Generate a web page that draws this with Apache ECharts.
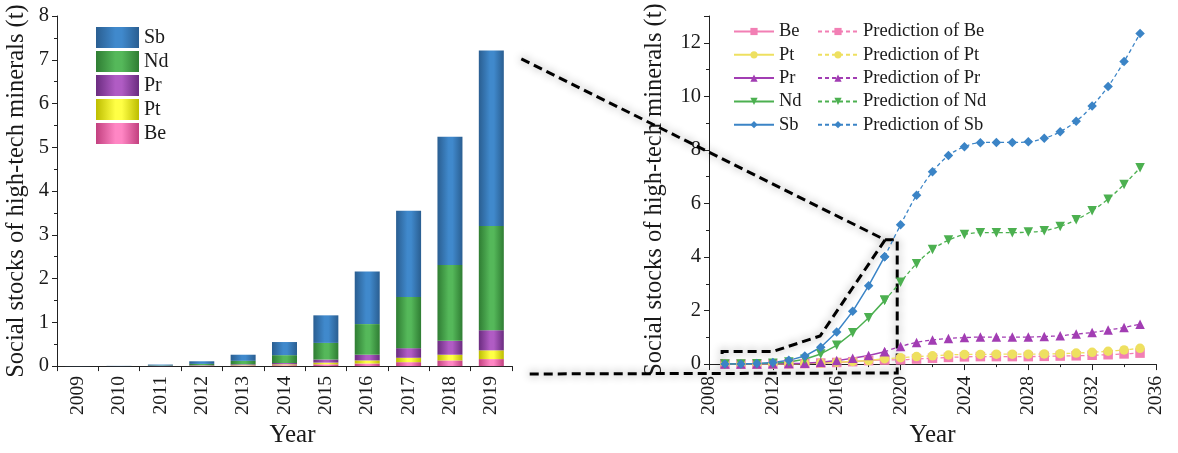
<!DOCTYPE html>
<html><head><meta charset="utf-8">
<script src="https://cdn.jsdelivr.net/npm/echarts@6/dist/echarts.min.js"></script>
<style>
html,body{margin:0;padding:0;background:#fff;}
#wrap{position:relative;width:1178px;height:453px;}
.c{position:absolute;left:0;top:0;width:1178px;height:453px;}
</style>
</head><body>
<div id="wrap"><div id="left" class="c"></div><div id="right" class="c"></div></div>
<script>
// ---------- data ----------
const histYears = ['2009','2010','2011','2012','2013','2014','2015','2016','2017','2018','2019'];
const histBe = [0, 0, 0, 0.005, 0.01, 0.02, 0.04, 0.06, 0.09, 0.13, 0.16];
const histPt = [0, 0, 0, 0.005, 0.01, 0.02, 0.04, 0.07, 0.10, 0.13, 0.20];
const histPr = [0, 0, 0.005, 0.01, 0.02, 0.03, 0.07, 0.13, 0.22, 0.32, 0.46];
const histNd = [0, 0, 0.01, 0.03, 0.08, 0.18, 0.38, 0.70, 1.17, 1.73, 2.38];
const histSb = [0.003, 0.005, 0.02, 0.06, 0.14, 0.30, 0.63, 1.20, 1.97, 2.93, 4.01];

const predYears = [2020,2021,2022,2023,2024,2025,2026,2027,2028,2029,2030,2031,2032,2033,2034,2035];
const predBe = [0.16,0.19,0.22,0.25,0.27,0.28,0.28,0.28,0.28,0.29,0.30,0.31,0.33,0.35,0.38,0.41];
const predPt = [0.24,0.28,0.31,0.34,0.36,0.36,0.37,0.37,0.37,0.38,0.39,0.41,0.44,0.48,0.53,0.59];
const predPr = [0.66,0.81,0.90,0.96,0.99,1.01,1.01,1.01,1.01,1.03,1.06,1.12,1.18,1.27,1.37,1.49];
const predNd = [3.06,3.75,4.28,4.63,4.84,4.91,4.91,4.91,4.93,4.98,5.14,5.39,5.73,6.16,6.71,7.33];
const predSb = [5.20,6.31,7.18,7.79,8.12,8.27,8.28,8.28,8.30,8.43,8.68,9.07,9.64,10.37,11.30,12.35];

const yTitle = 'Social stocks of high-tech minerals (t)';
const xTitle = 'Year';

// ---------- styles ----------
const FONT = "'Liberation Serif','Times New Roman',serif";
const TXT = '#1a1a1a';
function grad(dark, light){
  return {type:'linear',x:0,y:0,x2:1,y2:0,colorStops:[
    {offset:0,color:dark},{offset:0.45,color:light},{offset:0.6,color:light},{offset:1,color:dark}]};
}
const barStyles = {
  Be: grad('#c2407f','#ff86c4'),
  Pt: grad('#bdbd00','#ffff45'),
  Pr: grad('#6b2c80','#b05cc4'),
  Nd: grad('#2f7d33','#55b85a'),
  Sb: grad('#2a5e91','#4089cc')
};
const lineColors = {Be:'#f27fb4', Pt:'#eee060', Pr:'#a23db3', Nd:'#4cb050', Sb:'#3b84c6'};
const symbols = {Be:'rect', Pt:'circle', Pr:'triangle', Nd:'triangle', Sb:'diamond'};
const rotates = {Be:0, Pt:0, Pr:0, Nd:180, Sb:0};

const axisLine = {show:true, lineStyle:{color:'#222', width:1}};

// ---------- left chart ----------
const leftChart = echarts.init(document.getElementById('left'), null, {renderer:'canvas'});
const histMap = {Be:histBe, Pt:histPt, Pr:histPr, Nd:histNd, Sb:histSb};
const barOrder = ['Be','Pt','Pr','Nd','Sb'];
leftChart.setOption({
  animation:false,
  backgroundColor:'transparent',
  textStyle:{fontFamily:FONT, color:TXT},
  grid:{left:57, top:16, right:666, bottom:78, containLabel:false},
  legend:{
    orient:'vertical', left:96, top:27, padding:0,
    itemWidth:43, itemHeight:21, itemGap:3,
    data:['Sb','Nd','Pr','Pt','Be'],
    textStyle:{fontFamily:FONT, fontSize:20, color:TXT},
    icon:'rect'
  },
  xAxis:{
    type:'category', data:histYears,
    axisLine:axisLine,
    axisTick:{show:true, length:5, lineStyle:{color:'#222'}},
    axisLabel:{rotate:90, fontSize:19.5, fontFamily:FONT, color:TXT, margin:10},
    name:xTitle, nameLocation:'middle', nameGap:55,
    nameTextStyle:{fontSize:25, fontFamily:FONT, color:TXT, padding:[0,0,0,16]}
  },
  yAxis:{
    type:'value', min:0, max:8, interval:1,
    axisLine:axisLine,
    axisTick:{show:true, length:5, lineStyle:{color:'#222'}},
    minorTick:{show:true, splitNumber:2, length:3, lineStyle:{color:'#222'}},
    splitLine:{show:false},
    axisLabel:{fontSize:20.5, fontFamily:FONT, color:TXT, margin:8},
    name:yTitle, nameLocation:'middle', nameGap:28,
    nameTextStyle:{fontSize:24.5, fontFamily:FONT, color:TXT}
  },
  series: barOrder.map(k => ({
    name:k, type:'bar', stack:'total', data:histMap[k], barWidth:25,
    itemStyle:{color:barStyles[k]}
  }))
});

// ---------- right chart ----------
const rightChart = echarts.init(document.getElementById('right'), null, {renderer:'canvas'});
const predMap = {Be:predBe, Pt:predPt, Pr:predPr, Nd:predNd, Sb:predSb};
const lineOrder = ['Be','Pt','Pr','Nd','Sb'];
const histSeries = lineOrder.map(k => ({
  name:k, type:'line', z:3,
  data: histYears.map((y,i)=>[Number(y), histMap[k][i]]),
  symbol:symbols[k], symbolRotate:rotates[k], symbolSize:9.5,
  lineStyle:{color:lineColors[k], width:1.5},
  itemStyle:{color:lineColors[k]}
}));
const predSeries = lineOrder.map(k => ({
  name:'Prediction of ' + k, type:'line', z:2, smooth:0.35,
  data: [[Number(histYears[histYears.length-1]), histMap[k][histMap[k].length-1]]]
        .concat(predYears.map((y,i)=>[y, predMap[k][i]])),
  symbol:symbols[k], symbolRotate:rotates[k], symbolSize:9.5,
  lineStyle:{color:lineColors[k], width:1.3, type:[4,3]},
  itemStyle:{color:lineColors[k]}
}));
const legendCommon = {
  orient:'vertical', top:22, padding:0,
  itemWidth:40, itemHeight:9, itemGap:4.3,
  textStyle:{fontFamily:FONT, fontSize:18.5, color:TXT}
};
rightChart.setOption({
  animation:false,
  backgroundColor:'transparent',
  textStyle:{fontFamily:FONT, color:TXT},
  grid:{left:709, top:16, right:22, bottom:79, containLabel:false},
  legend:[
    Object.assign({left:733, data:lineOrder.slice()}, legendCommon),
    Object.assign({left:817, data:lineOrder.map(k=>'Prediction of ' + k)}, legendCommon)
  ],
  xAxis:{
    type:'value', min:2008, max:2036, interval:4,
    axisLine:axisLine,
    axisTick:{show:true, length:6, lineStyle:{color:'#222'}},
    minorTick:{show:true, splitNumber:2, length:3, lineStyle:{color:'#222'}},
    splitLine:{show:false},
    axisLabel:{rotate:90, fontSize:19.5, fontFamily:FONT, color:TXT, margin:12, formatter:v=>String(v)},
    name:xTitle, nameLocation:'middle', nameGap:56,
    nameTextStyle:{fontSize:25, fontFamily:FONT, color:TXT}
  },
  yAxis:{
    type:'value', min:0, max:13, interval:2,
    axisLine:axisLine,
    axisTick:{show:true, length:5, lineStyle:{color:'#222'}},
    minorTick:{show:true, splitNumber:2, length:3, lineStyle:{color:'#222'}},
    splitLine:{show:false},
    axisLabel:{fontSize:20.5, fontFamily:FONT, color:TXT, margin:8, showMaxLabel:false},
    name:yTitle, nameLocation:'middle', nameGap:42,
    nameTextStyle:{fontSize:24.5, fontFamily:FONT, color:TXT}
  },
  series: histSeries.concat(predSeries)
});

// ---------- zoom connector (decoration) in right-chart data space ----------
const zoomBox = [[2019.03,4.64],[2014.96,1.05],[2012.0,0.47],[2008.82,0.47],[2008.82,-0.33]];
const zoomFrame = [[2019.03,4.64],[2019.79,4.64],[2019.79,-0.33]];
const R = p => rightChart.convertToPixel({gridIndex:0}, p);
const lastX = leftChart.convertToPixel({xAxisIndex:0}, histYears[histYears.length-1]);
const topLeft = [lastX + 30, leftChart.convertToPixel({yAxisIndex:0}, 7.02)];
const botLeft = [lastX + 35, leftChart.convertToPixel({yAxisIndex:0}, -0.18)];
const dashStyle = {stroke:'#000', lineWidth:3, lineDash:[9,5], fill:null,
  shadowBlur:8, shadowColor:'rgba(0,0,0,0.45)'};
const outer = [topLeft].concat(zoomFrame.map(R)).concat([botLeft]);
rightChart.setOption({
  graphic:[
    {type:'polyline', z:1, silent:true, shape:{points:outer}, style:dashStyle},
    {type:'polyline', z:1, silent:true, shape:{points:zoomBox.map(R)}, style:dashStyle}
  ]
});
</script>
</body></html>
